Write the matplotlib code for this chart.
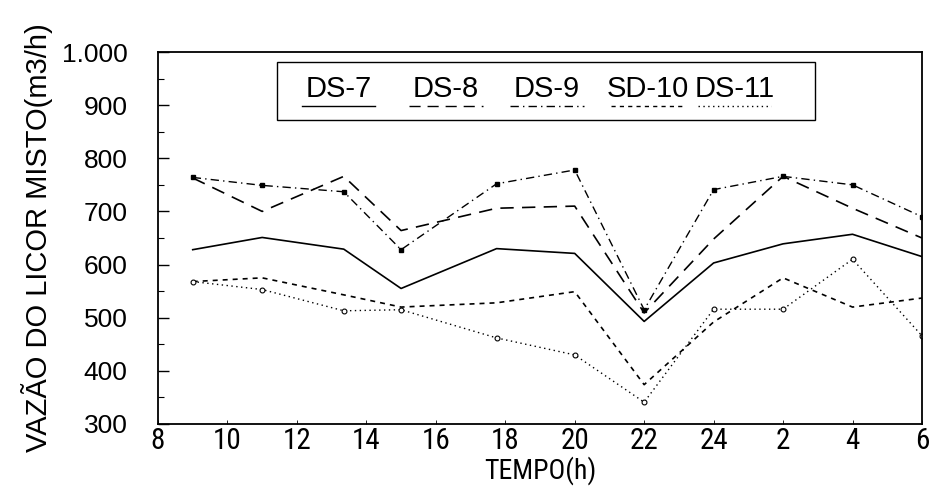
import matplotlib
matplotlib.use("Agg")
import matplotlib.pyplot as plt
from matplotlib import font_manager as fm
from matplotlib.ticker import MultipleLocator, FixedLocator
from matplotlib.patches import Rectangle
from matplotlib.lines import Line2D

plt.rcParams['font.family'] = ['Liberation Sans', 'DejaVu Sans']

def narrow_family():
    names = {f.name for f in fm.fontManager.ttflist}
    for n in ["Liberation Sans Narrow", "Arial Narrow", "Roboto Condensed", "DejaVu Sans Condensed"]:
        if n in names:
            return n
    return "Liberation Sans"

NARROW = narrow_family()

# Data
tempo = [9, 11, 13.35, 15, 17.75, 20, 22, 24, 26, 28, 30]
ds7 = [628, 651, 629, 555, 630, 621, 493, 603, 639, 657, 615]
ds8 = [763, 700, 766, 664, 706, 710, 509, 648, 766, 706, 650]
ds9 = [764, 749, 737, 628, 752, 778, 515, 741, 766, 750, 690]
sd10 = [568, 575, 543, 520, 528, 549, 374, 492, 575, 520, 537]
ds11 = [568, 553, 513, 515, 462, 430, 341, 516, 516, 610, 466]
series_names = ["DS-7", "DS-8", "DS-9", "SD-10", "DS-11"]
xtick_pos = [8, 10, 12, 14, 16, 18, 20, 22, 24, 26, 28, 30]
xtick_labels = ["8", "10", "12", "14", "16", "18", "20", "22", "24", "2", "4", "6"]
ytick_pos = [300, 400, 500, 600, 700, 800, 900, 1000]
ytick_labels = ["300", "400", "500", "600", "700", "800", "900", "1.000"]

fig = plt.figure(figsize=(9.31, 4.86), dpi=100)
ax = fig.add_axes([0.1697, 0.1276, 0.8206, 0.7654])

k = 'black'
ax.plot(tempo, ds7, color=k, lw=1.2, linestyle='-')
ax.plot(tempo, ds8, color=k, lw=1.2, linestyle=(0, (8, 5)))
ax.plot(tempo, ds9, color=k, lw=1.0, linestyle=(0, (6, 3, 1, 3)),
        marker='s', markersize=3.5)
ax.plot(tempo, sd10, color=k, lw=1.2, linestyle=(0, (3, 3)))
ax.plot(tempo, ds11, color=k, lw=1.0, linestyle=(0, (1, 2.5)),
        marker='o', markersize=3.5, markerfacecolor='white', markeredgewidth=0.8)

ax.set_xlim(8, 30)
ax.set_ylim(300, 1000)
ax.xaxis.set_major_locator(FixedLocator(xtick_pos))
ax.set_xticklabels(xtick_labels, family=NARROW, fontsize=21)
ax.yaxis.set_major_locator(FixedLocator(ytick_pos))
ax.set_yticklabels(ytick_labels, fontsize=19)
ax.yaxis.set_minor_locator(MultipleLocator(50))
ax.tick_params(axis='both', which='both', direction='in')
ax.tick_params(axis='y', which='major', length=8, width=1, pad=22)
ax.tick_params(axis='y', which='minor', length=4, width=0.8)
ax.tick_params(axis='x', which='major', length=3, width=0.6, pad=2)
for s in ax.spines.values():
    s.set_linewidth(1.3)

ax.set_xlabel("TEMPO(h)", fontsize=20, family=NARROW, labelpad=1)
ax.set_ylabel("VAZÃO DO LICOR MISTO(m3/h)", fontsize=21, labelpad=6)

# Legend drawn as a boxed row of labels with line samples under the text
ax.add_patch(Rectangle((0.156, 0.817), 0.704, 0.156, transform=ax.transAxes,
                       fill=False, edgecolor=k, lw=1.0))
styles = [dict(linestyle='-'), dict(linestyle=(0, (8, 5))),
          dict(linestyle=(0, (6, 3, 1, 3))), dict(linestyle=(0, (3, 3))),
          dict(linestyle=(0, (1, 2.5)))]
centers = [0.236, 0.377, 0.509, 0.641, 0.755]
for name, cx, st in zip(series_names, centers, styles):
    ax.text(cx, 0.9, name, transform=ax.transAxes, ha='center', va='center',
            fontsize=21)
    ax.add_line(Line2D([cx - 0.048, cx + 0.048], [0.855, 0.855], transform=ax.transAxes,
                       color=k, lw=1.0, **st))

fig.savefig("out.png", dpi=100)
